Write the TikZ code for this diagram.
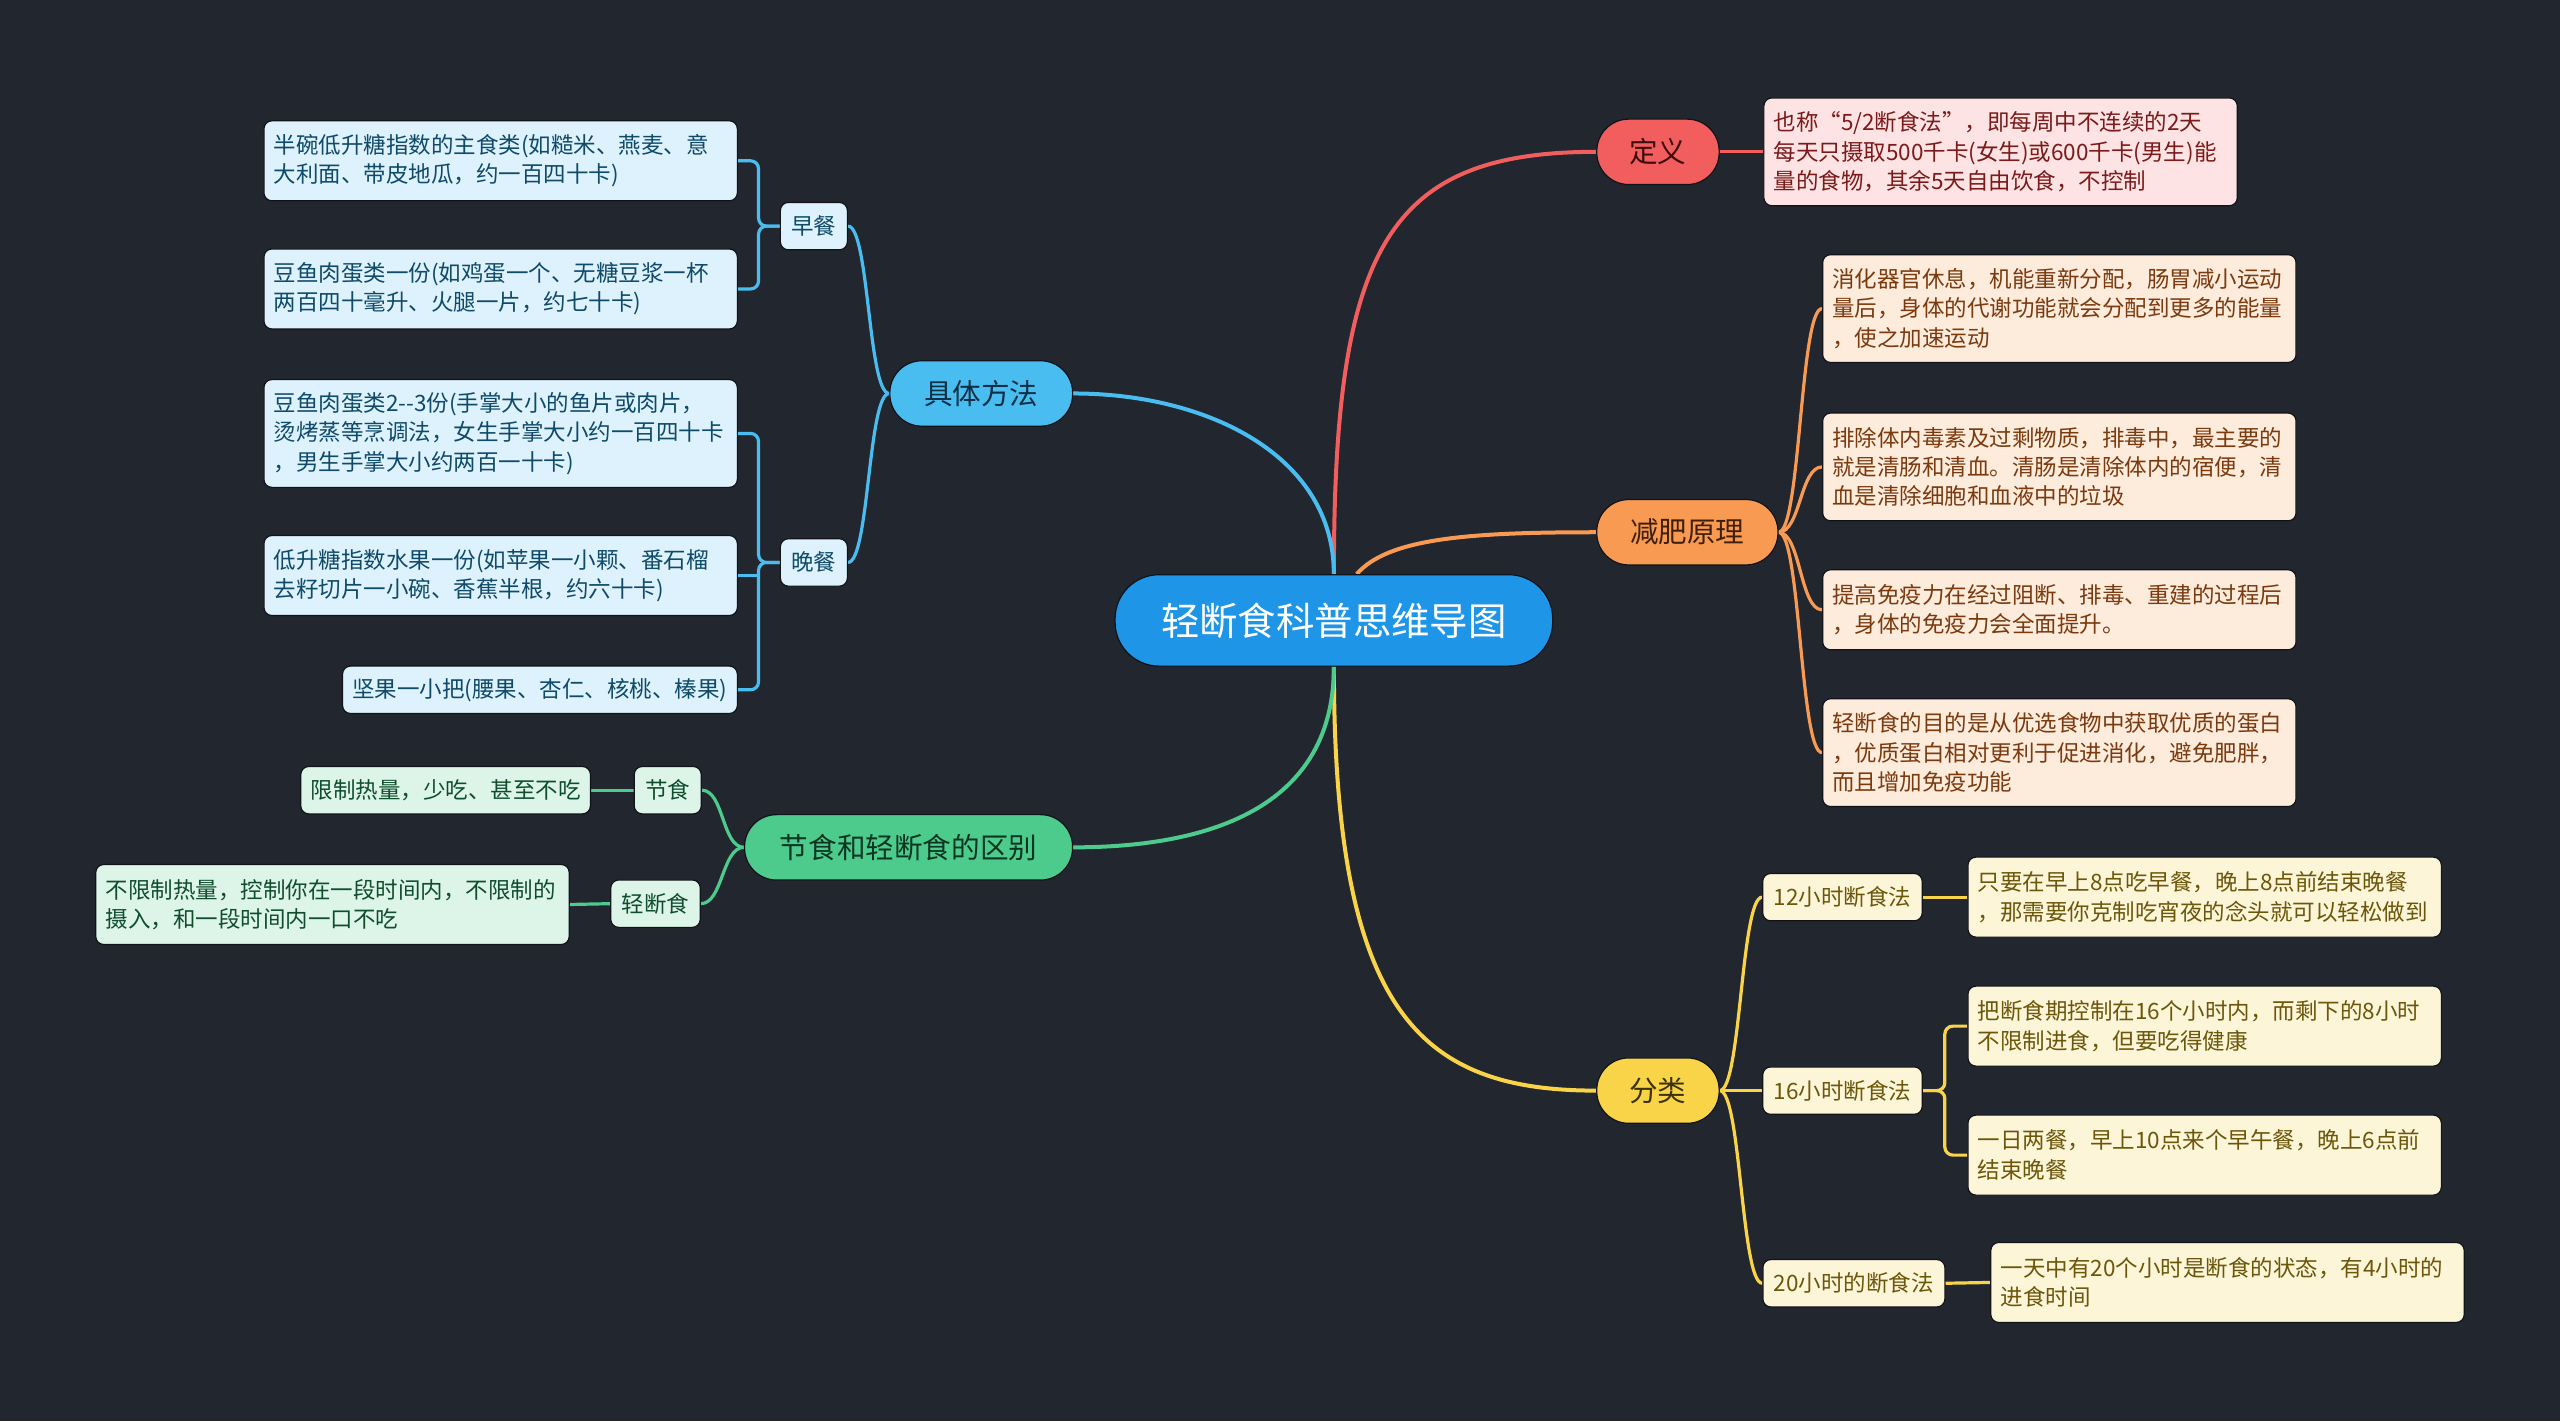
\documentclass[tikz,border=0pt]{standalone}
\usepackage{fontspec}
\newfontfamily\cjk{Noto Sans CJK SC}
\usetikzlibrary{calc}
\definecolor{bgc}{HTML}{22262F}
\definecolor{rootc}{HTML}{1F95E8}
\definecolor{redc}{HTML}{F25E5E}\definecolor{redl}{HTML}{FDE3E3}\definecolor{redt}{HTML}{7A1A1A}\definecolor{redd}{HTML}{3D0B0B}
\definecolor{orac}{HTML}{F99A52}\definecolor{oral}{HTML}{FDEBDC}\definecolor{orat}{HTML}{7A3A0E}\definecolor{orad}{HTML}{40200A}
\definecolor{yelc}{HTML}{FAD448}\definecolor{yell}{HTML}{FDF5D8}\definecolor{yelt}{HTML}{6B560A}\definecolor{yeld}{HTML}{3D3205}
\definecolor{bluc}{HTML}{4ABDF0}\definecolor{blul}{HTML}{DDF2FC}\definecolor{blut}{HTML}{0F4A68}\definecolor{blud}{HTML}{0C2F45}
\definecolor{grnc}{HTML}{4DCB8D}\definecolor{grnl}{HTML}{DDF5E9}\definecolor{grnt}{HTML}{0F4D2C}\definecolor{grnd}{HTML}{0A3520}
\definecolor{edgec}{HTML}{111318}
\pgfdeclarelayer{back}\pgfdeclarelayer{lines}
\pgfsetlayers{back,lines,main}
\begin{document}
\begin{tikzpicture}[x=0.8163pt,y=-0.8163pt,
  outline/.style={draw=edgec,line width=0.6pt},
  rootnode/.style={outline,fill=rootc,text=white,rounded corners=22pt,minimum width=218.8pt,minimum height=45.7pt,inner sep=0pt,font=\cjk\fontsize{19.2}{23}\selectfont},
  mainnode/.style={outline,rounded corners=16pt,minimum height=32.7pt,inner sep=0pt,font=\cjk\fontsize{14.3}{17}\selectfont},
  subnode/.style={outline,rounded corners=4pt,minimum height=23.7pt,inner xsep=5.5pt,inner ysep=0pt,font=\cjk\fontsize{11.25}{14.7}\selectfont},
  leaf/.style={outline,rounded corners=4pt,inner xsep=4.9pt,inner ysep=0pt,align=left,font=\cjk\fontsize{11.25}{14.7}\selectfont},
  wide/.style={text width=226.9pt},
  one/.style={minimum height=23.7pt},
  two/.style={minimum height=40pt},
  three/.style={minimum height=53.9pt},
  bigline/.style={line width=2pt},
  smallline/.style={line width=1.6pt,rounded corners=4pt},
]
\begin{pgfonlayer}{back}
\fill[bgc] (0,0) rectangle (1568,870.4);
\end{pgfonlayer}

% root
\node[rootnode] (root) at (817,380) {轻断食科普思维导图};

% main topics
\node[mainnode,fill=redc,text=redd,minimum width=61.2pt] (dy) at (1015.5,93) {定义};
\node[mainnode,fill=orac,text=orad,minimum width=90.6pt] (jf) at (1033.5,326) {减肥原理};
\node[mainnode,fill=yelc,text=yeld,minimum width=61.2pt] (fl) at (1015.5,668) {分类};
\node[mainnode,fill=bluc,text=blud,minimum width=91.4pt] (jt) at (601,241) {具体方法};
\node[mainnode,fill=grnc,text=grnd,minimum width=164pt] (jq) at (556.5,519) {节食和轻断食的区别};

% sub topics
\node[subnode,fill=blul,text=blut] (zc) at (498.5,138.5) {早餐};
\node[subnode,fill=blul,text=blut] (wc) at (498.5,344.5) {晚餐};
\node[subnode,fill=grnl,text=grnt] (js) at (409,484) {节食};
\node[subnode,fill=grnl,text=grnt] (qd) at (401.5,553.5) {轻断食};
\node[subnode,fill=yell,text=yelt] (h12) at (1128.5,549.5) {12小时断食法};
\node[subnode,fill=yell,text=yelt] (h16) at (1128.5,668) {16小时断食法};
\node[subnode,fill=yell,text=yelt] (h20) at (1135.5,786) {20小时的断食法};

% blue leaves
\node[leaf,wide,two,fill=blul,text=blut,anchor=east] (L1) at (452,98.5) {半碗低升糖指数的主食类(如糙米、燕麦、意\\大利面、带皮地瓜，约一百四十卡)};
\node[leaf,wide,two,fill=blul,text=blut,anchor=east] (L2) at (452,177) {豆鱼肉蛋类一份(如鸡蛋一个、无糖豆浆一杯\\两百四十毫升、火腿一片，约七十卡)};
\node[leaf,wide,three,fill=blul,text=blut,anchor=east] (L3) at (452,265.5) {豆鱼肉蛋类2-\kern0pt-3份(手掌大小的鱼片或肉片，\\烫烤蒸等烹调法，女生手掌大小约一百四十卡\\，男生手掌大小约两百一十卡)};
\node[leaf,wide,two,fill=blul,text=blut,anchor=east] (L4) at (452,352.5) {低升糖指数水果一份(如苹果一小颗、番石榴\\去籽切片一小碗、香蕉半根，约六十卡)};
\node[leaf,one,fill=blul,text=blut,anchor=east] (L5) at (452,422.5) {坚果一小把(腰果、杏仁、核桃、榛果)};

% green leaves
\node[leaf,one,fill=grnl,text=grnt,anchor=east] (G1) at (362,484) {限制热量，少吃、甚至不吃};
\node[leaf,wide,two,fill=grnl,text=grnt,anchor=east] (G2) at (349,554) {不限制热量，控制你在一段时间内，不限制的\\摄入，和一段时间内一口不吃};

% red leaf
\node[leaf,wide,three,fill=redl,text=redt,anchor=west] (D1) at (1080,93) {也称“5/2断食法”，即每周中不连续的2天\\每天只摄取500千卡(女生)或600千卡(男生)能\\量的食物，其余5天自由饮食，不控制};

% orange leaves
\node[leaf,wide,three,fill=oral,text=orat,anchor=west] (R1) at (1116,189) {消化器官休息，机能重新分配，肠胃减小运动\\量后，身体的代谢功能就会分配到更多的能量\\，使之加速运动};
\node[leaf,wide,three,fill=oral,text=orat,anchor=west] (R2) at (1116,286) {排除体内毒素及过剩物质，排毒中，最主要的\\就是清肠和清血。清肠是清除体内的宿便，清\\血是清除细胞和血液中的垃圾};
\node[leaf,wide,two,fill=oral,text=orat,anchor=west] (R3) at (1116,373.5) {提高免疫力在经过阻断、排毒、重建的过程后\\，身体的免疫力会全面提升。};
\node[leaf,wide,three,fill=oral,text=orat,anchor=west] (R4) at (1116,461) {轻断食的目的是从优选食物中获取优质的蛋白\\，优质蛋白相对更利于促进消化，避免肥胖，\\而且增加免疫功能};

% yellow leaves
\node[leaf,wide,two,fill=yell,text=yelt,anchor=west] (Y1) at (1205,549.5) {只要在早上8点吃早餐，晚上8点前结束晚餐\\，那需要你克制吃宵夜的念头就可以轻松做到};
\node[leaf,wide,two,fill=yell,text=yelt,anchor=west] (Y2) at (1205,628.5) {把断食期控制在16个小时内，而剩下的8小时\\不限制进食，但要吃得健康};
\node[leaf,wide,two,fill=yell,text=yelt,anchor=west] (Y3) at (1205,707.5) {一日两餐，早上10点来个早午餐，晚上6点前\\结束晚餐};
\node[leaf,wide,two,fill=yell,text=yelt,anchor=west] (Y4) at (1219,785.5) {一天中有20个小时是断食的状态，有4小时的\\进食时间};

\begin{pgfonlayer}{lines}
% root connectors
\draw[bigline,redc] (root.north) .. controls +(0,-200) and +(-128,0) .. (dy.west);
\draw[bigline,bluc] (root.north) .. controls +(0,-72) and +(83,0) .. (jt.east);
\draw[bigline,orac] ($(root.north)+(14,0)$) .. controls +(19,-22) and +(-78,0) .. (jf.west);
\draw[bigline,yelc] (root.south) .. controls +(0,212) and +(-108,0) .. (fl.west);
\draw[bigline,grnc] (root.south) .. controls +(0,92) and +(73,0) .. (jq.east);

% blue branch
\draw[smallline,bluc] (jt.west) .. controls +(-13,0) and +(13,0) .. (zc.east);
\draw[smallline,bluc] (jt.west) .. controls +(-13,0) and +(13,0) .. (wc.east);
\draw[smallline,bluc] (zc.west) -- ++(-13,0) |- (L1.east);
\draw[smallline,bluc] (zc.west) -- ++(-13,0) |- (L2.east);
\draw[smallline,bluc] (wc.west) -- ++(-13,0) |- (L3.east);
\draw[smallline,bluc] (wc.west) -- ++(-13,0) |- (L5.east);
\draw[smallline,bluc] (L4.east) -- ++(13,0);

% green branch
\draw[smallline,grnc] (jq.west) .. controls +(-13.5,0) and +(13.5,0) .. (js.east);
\draw[smallline,grnc] (jq.west) .. controls +(-13.5,0) and +(13.5,0) .. (qd.east);
\draw[smallline,grnc] (js.west) -- (G1.east);
\draw[smallline,grnc] (qd.west) -- (G2.east);

% red branch
\draw[smallline,redc] (dy.east) -- (D1.west);

% orange branch
\foreach \r in {R1,R2,R3,R4}
  \draw[smallline,orac] (jf.east) .. controls +(13.5,0) and +(-13.5,0) .. (\r.west);

% yellow branch
\draw[smallline,yelc] (fl.east) .. controls +(13,0) and +(-13,0) .. (h12.west);
\draw[smallline,yelc] (fl.east) -- (h16.west);
\draw[smallline,yelc] (fl.east) .. controls +(13,0) and +(-13,0) .. (h20.west);
\draw[smallline,yelc] (h12.east) -- (Y1.west);
\draw[smallline,yelc] (h20.east) -- (Y4.west);
\draw[smallline,yelc] (h16.east) -- ++(13.5,0) |- (Y2.west);
\draw[smallline,yelc] (h16.east) -- ++(13.5,0) |- (Y3.west);
\end{pgfonlayer}
\end{tikzpicture}
\end{document}
